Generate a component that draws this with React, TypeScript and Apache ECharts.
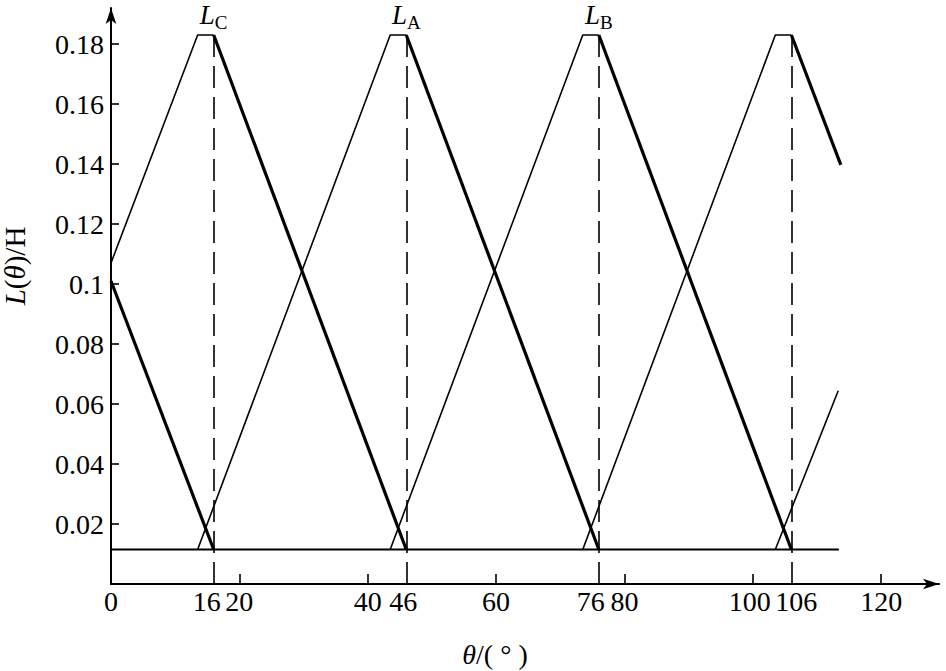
import React, { useEffect, useRef } from "react";
import * as echarts from "echarts";

// ---- data ----
const xTickLabels = [0, 16, 20, 40, 46, 60, 76, 80, 100, 106, 120];
const xTickMarks = [20, 40, 60, 80, 100, 120];
const yTickLabels = [0.02, 0.04, 0.06, 0.08, 0.1, 0.12, 0.14, 0.16, 0.18];
const peakAngles = [16, 46, 76, 106];
const peakNames = ["C", "A", "B", ""];
const peakValue = 0.183;

// thin rising edges (incl. flat top)
const risingEdges: number[][][] = [
  [[0, 0.107], [13.5, 0.183], [16, 0.183]],
  [[13.5, 0.0115], [43.5, 0.183], [46, 0.183]],
  [[43.5, 0.0115], [73.5, 0.183], [76, 0.183]],
  [[73.5, 0.0115], [103.5, 0.183], [106, 0.183]],
  [[103.5, 0.0115], [113.3, 0.0644]],
];
// thick falling edges
const fallingEdges: number[][][] = [
  [[0, 0.101], [16, 0.0115]],
  [[16, 0.183], [46, 0.0115]],
  [[46, 0.183], [76, 0.0115]],
  [[76, 0.183], [106, 0.0115]],
  [[106, 0.183], [113.7, 0.1397]],
];
// minimum inductance line
const minimumLine: number[][] = [[0, 0.0115], [113.4, 0.0115]];

const FONT = "Liberation Serif";

// horizontal nudges (px) of crowded x labels, as in the reference
const labelNudge: Record<string, number> = { "16": -7, "46": -3, "76": -8, "100": -3, "106": 5 };

export default function App() {
  const ref = useRef<HTMLDivElement>(null);
  useEffect(() => {
    if (!ref.current) return;
    const chart = echarts.init(ref.current, undefined, { renderer: "svg" });

    const series: any[] = [];
    risingEdges.forEach((seg, i) => {
      series.push({
        type: "line",
        name: "rise" + i,
        data: seg,
        symbol: "none",
        lineStyle: { color: "#000", width: 1.6 },
        z: 3,
      });
    });
    fallingEdges.forEach((seg, i) => {
      series.push({
        type: "line",
        name: "fall" + i,
        data: seg,
        symbol: "none",
        lineStyle: { color: "#000", width: 3.2 },
        z: 4,
      });
    });
    series.push({
      type: "line",
      name: "min",
      data: minimumLine,
      symbol: "none",
      lineStyle: { color: "#000", width: 2 },
      z: 3,
      markLine: {
        silent: true,
        symbol: ["none", "none"],
        lineStyle: { color: "#000", width: 1.6, type: [22, 9] },
        data: peakAngles.map((a, i) => {
          const lab = {
            show: peakNames[i] !== "",
            position: "end",
            distance: 3,
            formatter: "{i|L}{s|" + peakNames[i] + "}",
            rich: {
              i: {
                fontFamily: FONT,
                fontStyle: "italic",
                fontSize: 27,
                color: "#000",
                verticalAlign: "bottom",
                padding: [0, 0, 4, 0],
              },
              s: {
                fontFamily: FONT,
                fontSize: 19,
                color: "#000",
                verticalAlign: "bottom",
              },
            },
          };
          return [
            { coord: [a, 0], label: lab },
            { coord: [a, peakValue], label: lab },
          ];
        }),
      },
    });

    const xRich: any = {
      n: { fontFamily: FONT, fontSize: 28, color: "#000" },
    };
    Object.keys(labelNudge).forEach((k) => {
      const s = labelNudge[k];
      xRich["v" + k] = {
        fontFamily: FONT,
        fontSize: 28,
        color: "#000",
        padding: s < 0 ? [0, -2 * s, 0, 0] : [0, 0, 0, 2 * s],
      };
    });

    chart.setOption({
      animation: false,
      grid: { left: 111, right: 7, top: 8, bottom: 87, containLabel: false },
      xAxis: {
        type: "value",
        min: 0,
        max: 129,
        splitLine: { show: false },
        axisLine: {
          lineStyle: { color: "#000", width: 2 },
          symbol: ["none", "arrow"],
          symbolSize: [8, 16],
        },
        axisTick: {
          inside: true,
          length: 10,
          lineStyle: { color: "#000", width: 1.6 },
          customValues: xTickMarks,
        },
        axisLabel: {
          customValues: xTickLabels,
          color: "#000",
          fontFamily: FONT,
          fontSize: 28,
          margin: 3,
          formatter: (v: number) => {
            const k = String(v);
            return labelNudge[k] !== undefined ? "{v" + k + "|" + k + "}" : "{n|" + k + "}";
          },
          rich: xRich,
        },
      },
      yAxis: {
        type: "value",
        min: 0,
        max: 0.192,
        splitLine: { show: false },
        axisLine: {
          lineStyle: { color: "#000", width: 2 },
          symbol: ["none", "arrow"],
          symbolSize: [8, 16],
        },
        axisTick: {
          inside: true,
          length: 8,
          lineStyle: { color: "#000", width: 1.6 },
          customValues: yTickLabels,
        },
        axisLabel: {
          customValues: yTickLabels,
          color: "#000",
          fontFamily: FONT,
          fontSize: 28,
          margin: 7,
          formatter: (v: number) => String(Math.round(v * 100) / 100),
        },
      },
      graphic: [
        {
          type: "text",
          x: 15,
          y: 266,
          rotation: Math.PI / 2,
          style: {
            text: "{i|L}(" + "{i|θ})/H",
            rich: {
              i: { fontFamily: FONT, fontStyle: "italic", fontSize: 29, fill: "#000" },
            },
            fontFamily: FONT,
            fontSize: 29,
            fill: "#000",
            align: "center",
            verticalAlign: "middle",
          },
        },
        {
          type: "text",
          x: 495,
          y: 654,
          style: {
            text: "{i|θ}/( ° )",
            rich: {
              i: { fontFamily: FONT, fontStyle: "italic", fontSize: 28, fill: "#000" },
            },
            fontFamily: FONT,
            fontSize: 28,
            fill: "#000",
            align: "center",
            verticalAlign: "middle",
          },
        },
      ],
      series,
    });
    return () => chart.dispose();
  }, []);
  return (
    <div
      ref={ref}
      style={{ position: "fixed", left: 0, top: 0, width: 946, height: 671, background: "#fff" }}
    />
  );
}
